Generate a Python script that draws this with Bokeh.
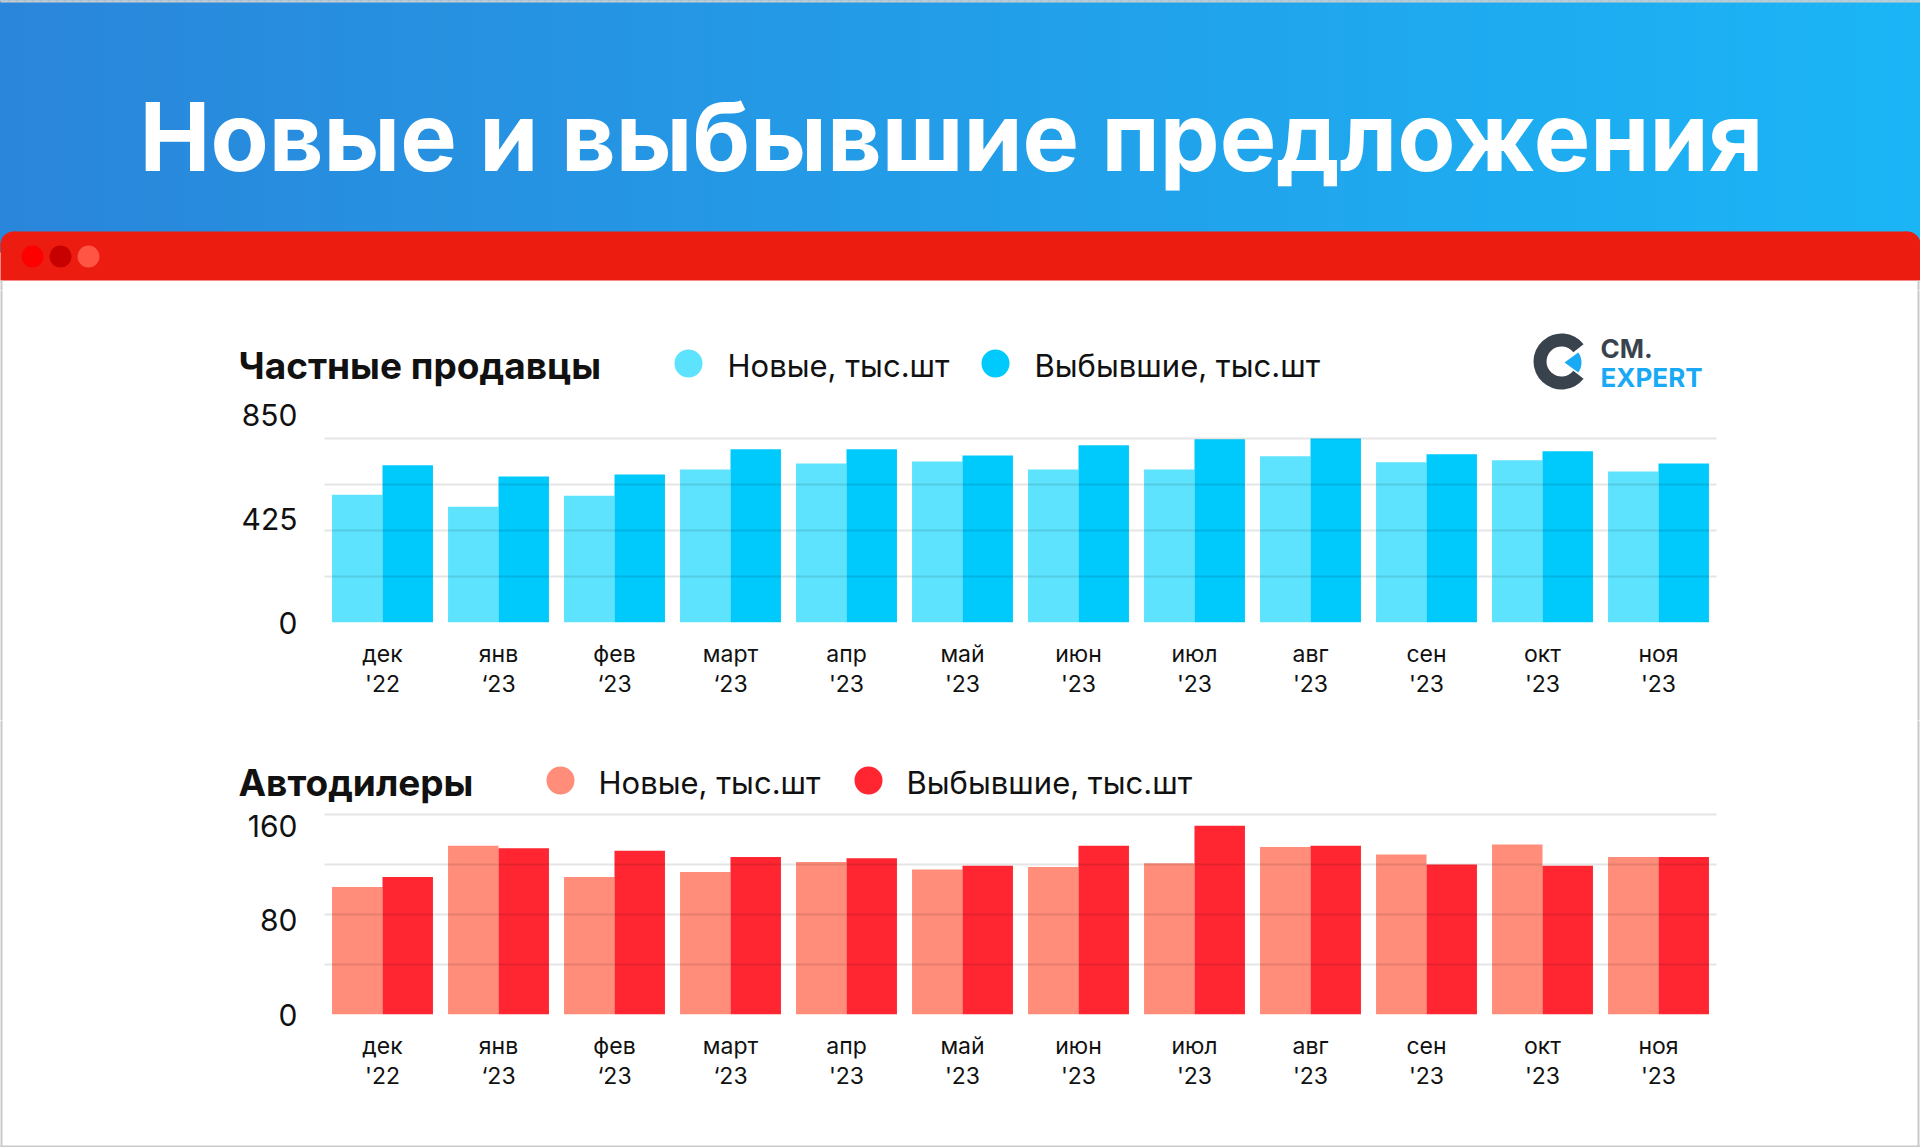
import numpy as np
from bokeh.plotting import figure
from bokeh.models import Range1d, FixedTicker, LinearAxis, ColumnDataSource
from bokeh.layouts import column
from bokeh.transform import dodge
from bokeh.core.properties import value
from bokeh.embed import file_html
from bokeh.resources import INLINE

# ---------------- data ----------------
months = ["дек", "янв", "фев", "март", "апр", "май", "июн", "июл", "авг", "сен", "окт", "ноя"]
years = ["'22", "‘23", "‘23", "‘23", "'23", "'23", "'23", "'23", "'23", "'23", "'23", "'23"]
private_new = [590, 535, 586, 707, 735, 744, 707, 707, 768, 740, 749, 698]
private_gone = [726, 674, 684, 800, 800, 772, 819, 847, 850, 777, 791, 735]
dealer_new = [102, 135, 110, 114, 122, 116, 118, 121, 134, 128, 136, 126]
dealer_gone = [110, 133, 131, 126, 125, 119, 135, 151, 135, 120, 119, 126]
private_ticks = [0, 425, 850]
private_grid = [0, 212.5, 425, 637.5, 850]
dealer_ticks = [0, 80, 160]
dealer_grid = [0, 40, 80, 120, 160]
series_labels = ["Новые, тыс.шт", "Выбывшие, тыс.шт"]
main_title = "Новые и выбывшие предложения"
chart_titles = ["Частные продавцы", "Автодилеры"]

labels = [m + "\n" + y for m, y in zip(months, years)]
idx = list(range(len(months)))

FONT = "Inter"
PAGE_W = 1920
FRAME_L, FRAME_R = 324, 1716
BORDER = "#c9c9c9"
TAU = 2 * np.pi


def hexcol(c):
    return "#%02x%02x%02x" % tuple(int(round(v)) for v in c)


def base_fig(top, bot, frame_top, frame_bot, **extra):
    return figure(width=PAGE_W, height=bot - top, toolbar_location=None, output_backend="svg",
                  min_border_left=FRAME_L, min_border_right=PAGE_W - FRAME_R,
                  min_border_top=frame_top - top, min_border_bottom=bot - frame_bot,
                  outline_line_color=None, **extra)


# ---------------- header ----------------
H_TOP, H_BOT = 0, 290
hdr = base_fig(H_TOP, H_BOT, H_TOP, H_BOT,
               x_range=Range1d(FRAME_L, FRAME_R), y_range=Range1d(H_BOT, H_TOP),
               x_axis_type=None, y_axis_type=None)
hdr.grid.visible = False
ov = dict(level="overlay")

step = 8
xs = np.arange(step / 2, PAGE_W, step)
c0 = np.array([42, 134, 218])
c1 = np.array([27, 181, 246])
cols = [hexcol(c0 + (c1 - c0) * (x / PAGE_W)) for x in xs]
hdr.segment(x0=xs, y0=0, x1=xs, y1=252, line_color=cols, line_width=step + 1, **ov)

# red browser bar with rounded top corners
R = 13
RED = "#ec1c10"
hdr.quad(left=[0], right=[PAGE_W], top=[231 + R], bottom=[280], fill_color=RED, line_color=None, **ov)
hdr.quad(left=[R], right=[PAGE_W - R], top=[231], bottom=[231 + R + 1], fill_color=RED, line_color=None, **ov)
hdr.wedge(x=[R, PAGE_W - R], y=[231 + R, 231 + R], radius=R, start_angle=0, end_angle=TAU,
          fill_color=RED, line_color=None, **ov)
hdr.wedge(x=[32, 60, 88], y=[256, 256, 256], radius=11, start_angle=0, end_angle=TAU,
          fill_color=["#ff0000", "#c70000", "#ff5545"], line_color=None, **ov)

hdr.text(x=[951], y=[136], text=[main_title], text_font=value(FONT), text_font_size="95px",
         text_font_style="bold", text_color="white", text_align="center", text_baseline="middle", **ov)
hdr.segment(x0=[1, PAGE_W - 2, 0], y0=[280, 280, 1], x1=[1, PAGE_W - 2, PAGE_W], y1=[H_BOT, H_BOT, 1],
            line_color=BORDER, line_width=2, **ov)


# ---------------- charts ----------------
def make_chart(fig_top, fig_bot, frame_top, frame_bot, grid_top, ymax, ticks, grid_ticks,
               lab_pos_top, new, gone, colors, title, title_y, legend_x):
    # main value range: ymax sits on the top gridline (grid_top)
    y_end = ymax * (frame_bot - frame_top) / (frame_bot - grid_top)
    # label range: ymax label sits at lab_pos_top (offset like the reference)
    lab_end = ymax * (frame_bot - frame_top) / (frame_bot - lab_pos_top)
    p = base_fig(fig_top, fig_bot, frame_top, frame_bot,
                 x_range=Range1d(-0.5, len(months) - 0.5), y_range=Range1d(0, y_end),
                 y_axis_location=None)
    p.extra_y_ranges = {"lab": Range1d(0, lab_end), "py": Range1d(frame_bot, frame_top)}
    p.extra_x_ranges = {"px": Range1d(FRAME_L, FRAME_R)}

    src = ColumnDataSource(dict(i=idx, new=new, gone=gone))
    p.vbar(x=dodge("i", -0.2175), top="new", width=0.435, source=src,
           fill_color=colors[0], line_color=None)
    p.vbar(x=dodge("i", 0.2175), top="gone", width=0.435, source=src,
           fill_color=colors[1], line_color=None)

    yax = LinearAxis(y_range_name="lab", ticker=FixedTicker(ticks=ticks))
    yax.axis_line_color = None
    yax.major_tick_line_color = None
    yax.minor_tick_line_color = None
    yax.major_label_text_font = FONT
    yax.major_label_text_font_size = "30px"
    yax.major_label_text_color = "#111111"
    yax.major_label_standoff = 21
    p.add_layout(yax, "left")

    # horizontal grid (the figure's own y grid), drawn over the bars
    yg = p.ygrid[0]
    yg.ticker = FixedTicker(ticks=grid_ticks)
    yg.grid_line_color = "black"
    yg.grid_line_alpha = 0.1
    yg.grid_line_width = 2
    yg.level = "overlay"
    p.xgrid.visible = False

    xa = p.xaxis[0]
    xa.ticker = FixedTicker(ticks=idx)
    xa.major_label_overrides = {i: lab for i, lab in zip(idx, labels)}
    xa.axis_line_color = None
    xa.major_tick_line_color = None
    xa.minor_tick_line_color = None
    xa.major_label_text_font = FONT
    xa.major_label_text_font_size = "23px"
    xa.major_label_text_color = "#111111"
    xa.major_label_text_line_height = 1.1
    xa.major_label_standoff = 11

    kw = dict(x_range_name="px", y_range_name="py", level="overlay")
    p.text(x=[238], y=[title_y], text=[title], text_font=value(FONT), text_font_size="37px",
           text_font_style="bold", text_color="#111111", text_baseline="middle", **kw)
    p.wedge(x=[legend_x[0], legend_x[2]], y=[title_y - 2] * 2, radius=14,
            start_angle=0, end_angle=TAU, fill_color=colors, line_color=None, **kw)
    p.text(x=[legend_x[1], legend_x[3]], y=[title_y] * 2, text=series_labels,
           text_font=value(FONT), text_font_size="31px", text_color="#111111",
           text_baseline="middle", **kw)
    p.segment(x0=[1, PAGE_W - 2], y0=[fig_top, fig_top], x1=[1, PAGE_W - 2], y1=[fig_bot, fig_bot],
              line_color=BORDER, line_width=2, **kw)
    return p


c1p = make_chart(290, 720, 414, 622, 438, 850, private_ticks, private_grid, 414,
                 private_new, private_gone, ["#5de3fd", "#00c9fc"], chart_titles[0], 365,
                 [688, 727, 995, 1034])
# logo
kw = dict(x_range_name="px", y_range_name="py", level="overlay")
c1p.annular_wedge(x=[1561], y=[361], inner_radius=15, outer_radius=28,
                  start_angle=np.radians(38), end_angle=np.radians(322),
                  fill_color="#39434e", line_color=None, **kw)
c1p.wedge(x=[1564], y=[362], radius=17, start_angle=np.radians(-36), end_angle=np.radians(36),
          fill_color="#1aa9f5", line_color=None, **kw)
c1p.text(x=[1600, 1600], y=[348, 377], text=["CM.", "EXPERT"], text_font=value(FONT),
         text_font_size="26px", text_font_style="bold", text_color=["#39434e", "#1aa9f5"],
         text_baseline="middle", **kw)

c2p = make_chart(720, 1147, 808, 1014, 814, 160, dealer_ticks, dealer_grid, 825,
                 dealer_new, dealer_gone, ["#ff8d7a", "#ff2632"], chart_titles[1], 782,
                 [560, 598, 868, 906])
c2p.segment(x0=[0], y0=[1146], x1=[PAGE_W], y1=[1146], line_color=BORDER, line_width=2, **kw)

layout = column(hdr, c1p, c2p, spacing=0)
open("out.html", "w").write(file_html(layout, INLINE))
